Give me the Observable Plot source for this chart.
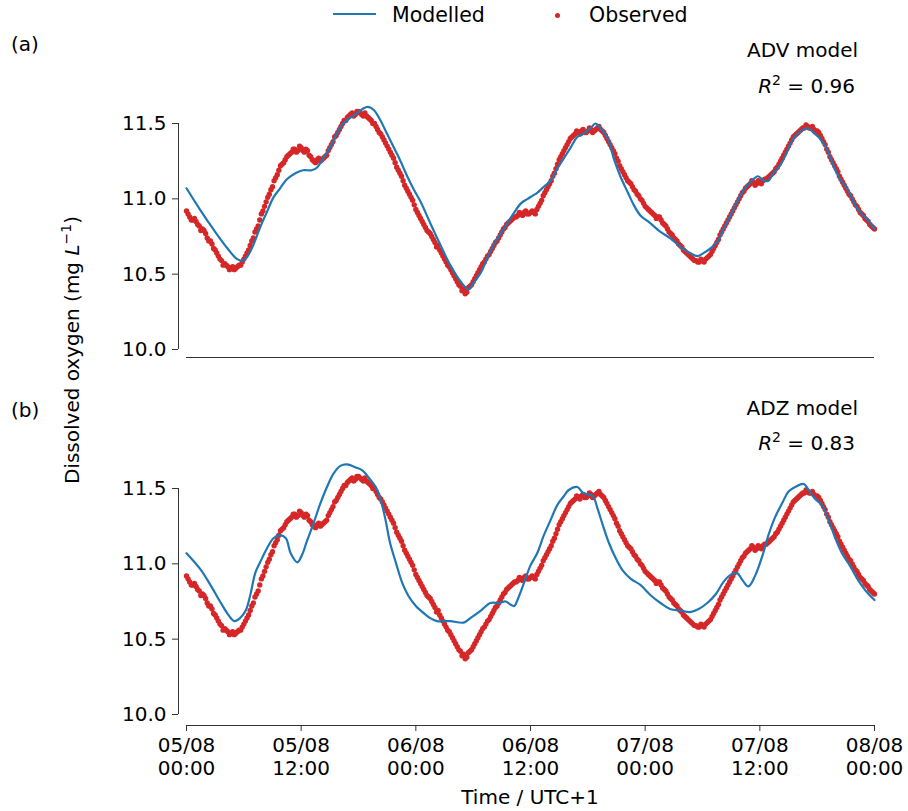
<!DOCTYPE html>
<html>
<head>
<meta charset="utf-8">
<script src="https://cdn.jsdelivr.net/npm/d3@7"></script>
<script src="https://cdn.jsdelivr.net/npm/@observablehq/plot@0.6"></script>
<style>
  html, body { margin: 0; padding: 0; background: #fff; }
  #root { position: relative; width: 908px; height: 811px; font-family: "DejaVu Sans", sans-serif; color: #000; overflow: hidden; }
  .abs { position: absolute; white-space: nowrap; font-size: 20px; line-height: 24px; }
  svg { position: absolute; left: 0; }
</style>
</head>
<body>
<div id="root"></div>
<script>
// ---- Data ----
const tickHours = [0, 12, 24, 36, 48, 60, 72];
const xTickLabels = ["05/08\n00:00", "05/08\n12:00", "06/08\n00:00", "06/08\n12:00", "07/08\n00:00", "07/08\n12:00", "08/08\n00:00"];
const yTicks = [10.0, 10.5, 11.0, 11.5];
const yTickLabels = ["10.0", "10.5", "11.0", "11.5"];

// Observed DO, every 20 minutes from 05/08 00:00 (hours since start = index / 3)
const observedValues = [
  10.92, 10.88, 10.86,  10.85, 10.82, 10.80,  10.77, 10.72, 10.70,  10.66, 10.62, 10.59,
  10.57, 10.55, 10.54,  10.53, 10.55, 10.56,  10.60, 10.64, 10.69,  10.74, 10.80, 10.86,
  10.92, 10.98, 11.03,  11.08, 11.14, 11.19,  11.23, 11.26, 11.29,  11.31, 11.33, 11.32,
  11.34, 11.31, 11.32,  11.28, 11.25, 11.26,  11.25, 11.27, 11.29,  11.34, 11.38, 11.42,
  11.46, 11.50, 11.52,  11.55, 11.57, 11.56,  11.58, 11.56, 11.57,  11.54, 11.52, 11.50,
  11.46, 11.43, 11.39,  11.35, 11.31, 11.27,  11.21, 11.17, 11.12,  11.07, 11.03, 10.99,
  10.93, 10.89, 10.85,  10.81, 10.78, 10.75,  10.71, 10.69, 10.64,  10.60, 10.56, 10.53,
  10.49, 10.45, 10.42,  10.40, 10.38, 10.42,  10.45, 10.49, 10.53,  10.57, 10.60, 10.63,
  10.67, 10.71, 10.74,  10.78, 10.81, 10.84,  10.86, 10.88, 10.89,  10.90, 10.91, 10.90,
  10.91, 10.91, 10.93,  10.97, 11.02, 11.06,  11.10, 11.15, 11.20,  11.26, 11.30, 11.34,
  11.38, 11.41, 11.43,  11.44, 11.45, 11.44,  11.45, 11.46, 11.45,  11.47, 11.46, 11.44,
  11.40, 11.36, 11.32,  11.27, 11.22, 11.18,  11.14, 11.11, 11.08,  11.05, 11.02, 10.99,
  10.95, 10.93, 10.91,  10.89, 10.88, 10.86,  10.83, 10.80, 10.77,  10.74, 10.72, 10.69,
  10.66, 10.64, 10.62,  10.60, 10.59, 10.58,  10.59, 10.60, 10.62,  10.65, 10.69, 10.73,
  10.78, 10.82, 10.86,  10.90, 10.94, 10.98,  11.02, 11.05, 11.08,  11.10, 11.11, 11.10,
  11.11, 11.12, 11.13,  11.15, 11.17, 11.20,  11.23, 11.27, 11.31,  11.35, 11.39, 11.42,
  11.44, 11.46, 11.47,  11.48, 11.47, 11.46,  11.45, 11.42, 11.38,  11.33, 11.28, 11.24,
  11.20, 11.15, 11.11,  11.07, 11.03, 11.00,  10.96, 10.93, 10.90,  10.87, 10.85, 10.82,
  10.80
];
// Observed DO, the readings in between (10, 30, 50 minutes past each hour; hours = index / 3 + 1/6)
const observedValuesMid = [
  10.90, 10.86, 10.87,  10.83, 10.79, 10.79,  10.74, 10.72, 10.67,  10.64, 10.60, 10.56,
  10.56, 10.53, 10.55,  10.54, 10.56, 10.58,  10.62, 10.66, 10.72,  10.78, 10.82, 10.90,
  10.95, 11.01, 11.06,  11.12, 11.16, 11.22,  11.24, 11.28, 11.30,  11.33, 11.31, 11.35,
  11.32, 11.33, 11.29,  11.26, 11.24, 11.27,  11.26, 11.28, 11.32,  11.36, 11.41, 11.44,
  11.48, 11.52, 11.54,  11.56, 11.55, 11.58,  11.57, 11.55, 11.55,  11.53, 11.50, 11.48,
  11.44, 11.41, 11.37,  11.33, 11.29, 11.24,  11.19, 11.15, 11.09,  11.05, 11.01, 10.96,
  10.91, 10.87, 10.83,  10.79, 10.77, 10.73,  10.68, 10.66, 10.62,  10.58, 10.55, 10.51,
  10.47, 10.43, 10.39,  10.37, 10.41, 10.43,  10.47, 10.51, 10.55,  10.58, 10.62, 10.65,
  10.69, 10.72, 10.76,  10.80, 10.83, 10.85,  10.87, 10.88, 10.91,  10.89, 10.92, 10.90,
  10.92, 10.90, 10.95,  10.99, 11.04, 11.08,  11.12, 11.17, 11.23,  11.28, 11.32, 11.36,
  11.40, 11.42, 11.45,  11.43, 11.46, 11.44,  11.47, 11.44, 11.46,  11.48, 11.45, 11.42,
  11.38, 11.34, 11.30,  11.25, 11.20, 11.16,  11.12, 11.10, 11.06,  11.03, 11.00, 10.97,
  10.94, 10.92, 10.90,  10.87, 10.88, 10.84,  10.82, 10.78, 10.76,  10.73, 10.70, 10.68,
  10.65, 10.63, 10.61,  10.59, 10.58, 10.60,  10.58, 10.61, 10.63,  10.67, 10.71, 10.76,
  10.80, 10.84, 10.88,  10.92, 10.96, 11.00,  11.04, 11.07, 11.09,  11.12, 11.09, 11.12,
  11.10, 11.13, 11.14,  11.16, 11.18, 11.21,  11.25, 11.29, 11.33,  11.37, 11.41, 11.43,
  11.45, 11.47, 11.49,  11.47, 11.48, 11.45,  11.44, 11.40, 11.36,  11.31, 11.26, 11.22,
  11.18, 11.13, 11.09,  11.05, 11.02, 10.98,  10.95, 10.91, 10.89,  10.86, 10.83, 10.81
];

// ADV model (hours since start, DO)
const advHours = [0, 1.5, 2.9, 4.3, 5.3, 5.9, 6.4, 6.9, 7.4, 7.9, 8.4, 9.1, 9.8, 10.5, 11.4, 12.2, 13.1, 13.7, 14.3, 15.1,
  15.8, 16.4, 17.2, 17.9, 18.5, 19.0, 19.6, 20.3, 21.0, 21.7, 22.4, 23.1, 23.8, 24.5, 25.5, 26.6, 27.6, 28.7, 29.5, 30.0,
  30.8, 31.5, 32.2, 32.9, 33.6, 34.2, 35.0, 35.7, 36.2, 36.7, 37.4, 38.1, 38.8, 39.5, 40.2, 40.9, 41.5, 42.3, 42.8, 43.3,
  44.1, 44.7, 45.4, 46.2, 46.8, 47.5, 48.5, 49.6, 50.6, 51.7, 52.7, 53.5, 54.1, 54.8, 55.6, 56.2, 57.0, 57.7, 58.3, 59.0,
  59.8, 60.4, 60.9, 61.4, 62.2, 62.9, 63.5, 64.3, 65.0, 65.6, 66.3, 67.1, 67.7, 68.4, 69.2, 69.8, 70.5, 71.3, 72.0];
const advValues = [11.07, 10.92, 10.79, 10.67, 10.60, 10.59, 10.62, 10.68, 10.76, 10.84, 10.91, 11.01, 11.07, 11.13, 11.17, 11.19, 11.19, 11.21, 11.27, 11.35,
  11.44, 11.50, 11.54, 11.57, 11.60, 11.61, 11.59, 11.52, 11.43, 11.34, 11.25, 11.15, 11.06, 10.98, 10.84, 10.69, 10.56, 10.45, 10.40, 10.44,
  10.51, 10.61, 10.70, 10.77, 10.84, 10.90, 10.97, 11.00, 11.02, 11.04, 11.08, 11.12, 11.20, 11.27, 11.34, 11.41, 11.43, 11.47, 11.50, 11.47,
  11.40, 11.27, 11.15, 11.04, 10.96, 10.89, 10.84, 10.78, 10.74, 10.68, 10.64, 10.62, 10.64, 10.67, 10.72, 10.80, 10.90, 10.99, 11.06, 11.11,
  11.15, 11.12, 11.12, 11.17, 11.23, 11.32, 11.40, 11.45, 11.47, 11.44, 11.40, 11.32, 11.22, 11.13, 11.06, 10.98, 10.91, 10.86, 10.80];

// ADZ model (hours since start, DO)
const adzHours = [0, 1.5, 2.5, 3.6, 4.4, 5.0, 5.6, 6.2, 6.7, 7.2, 7.7, 8.4, 9.1, 9.8, 10.4, 10.9, 11.6, 12.1, 12.6, 13.3,
  14.0, 14.7, 15.4, 16.1, 16.8, 17.7, 18.4, 19.1, 19.8, 20.3, 20.8, 21.3, 21.9, 22.6, 23.2, 24.0, 24.5, 25.5, 26.2, 27.6,
  29.0, 29.7, 30.8, 31.8, 32.7, 33.4, 33.9, 34.3, 34.7, 35.3, 36.0, 36.7, 37.4, 38.1, 38.8, 39.5, 40.0, 40.9, 41.5, 42.5,
  43.0, 43.5, 44.2, 44.9, 45.6, 46.5, 47.5, 48.6, 49.6, 50.6, 51.7, 52.7, 53.6, 54.5, 55.4, 56.2, 57.0, 57.6, 58.2, 58.8,
  59.5, 60.3, 60.9, 61.6, 62.4, 63.0, 63.7, 64.6, 65.1, 65.8, 66.5, 67.2, 67.9, 68.6, 69.5, 70.3, 71.1, 72.0];
const adzValues = [11.07, 10.96, 10.86, 10.74, 10.66, 10.62, 10.64, 10.69, 10.80, 10.94, 11.01, 11.10, 11.17, 11.19, 11.17, 11.07, 11.01, 11.06, 11.15, 11.27,
  11.40, 11.51, 11.60, 11.65, 11.66, 11.64, 11.62, 11.57, 11.51, 11.43, 11.30, 11.14, 11.01, 10.87, 10.79, 10.72, 10.69, 10.64, 10.62, 10.62,
  10.61, 10.64, 10.69, 10.74, 10.74, 10.75, 10.73, 10.72, 10.77, 10.87, 10.99, 11.07, 11.19, 11.29, 11.39, 11.45, 11.49, 11.51, 11.47, 11.45,
  11.37, 11.27, 11.14, 11.04, 10.96, 10.90, 10.86, 10.79, 10.74, 10.70, 10.69, 10.68, 10.70, 10.74, 10.80, 10.88, 10.93, 10.94, 10.89, 10.85,
  10.92, 11.06, 11.19, 11.31, 11.41, 11.48, 11.51, 11.53, 11.49, 11.43, 11.39, 11.29, 11.17, 11.07, 10.98, 10.89, 10.82, 10.76];

// ---- Build tables ----
const observed = observedValues.map((v, i) => ({h: i / 3, v}))
  .concat(observedValuesMid.map((v, i) => ({h: i / 3 + 1 / 6, v})));
const adv = advHours.map((h, i) => ({h, v: advValues[i]}));
const adz = adzHours.map((h, i) => ({h, v: adzValues[i]}));

const blue = "#1f77b4", red = "#d62728", axisColor = "#333";

function panel({model, height, marginTop, marginBottom, insetBottom, showX}) {
  return Plot.plot({
    width: 908,
    height,
    marginLeft: 178,
    marginRight: 34,
    marginTop,
    marginBottom,
    insetLeft: 8,
    insetBottom,
    x: showX ? {domain: [0, 72]} : {domain: [0, 72], axis: null},
    y: {domain: [10, 11.5], axis: null},
    style: {fontFamily: "DejaVu Sans", fontSize: "20px", color: "#000", background: "transparent", overflow: "visible"},
    marks: [
      Plot.ruleX([0], {y1: 10, y2: 11.5, dx: -8, stroke: axisColor, strokeWidth: 1}),
      Plot.ruleY([10], {x1: 0, x2: 72, dy: insetBottom, stroke: axisColor, strokeWidth: 1}),
      Plot.axisY({anchor: "left", ticks: yTicks, tickFormat: d => yTickLabels[yTicks.indexOf(d)], tickSize: 6, tickPadding: 6, label: null, stroke: axisColor}),
      showX ? Plot.axisX({anchor: "bottom", ticks: tickHours, tickFormat: d => xTickLabels[tickHours.indexOf(d)], tickSize: 6, tickPadding: 4, label: null, lineHeight: 1.15, stroke: axisColor}) : null,
      Plot.dot(observed, {x: "h", y: "v", r: 2.7, fill: red, stroke: null}),
      Plot.line(model, {x: "h", y: "v", stroke: blue, strokeWidth: 2.2, curve: "catmull-rom"})
    ]
  });
}

const root = document.getElementById("root");

const svgA = panel({model: adv, height: 280, marginTop: 33, marginBottom: 13, insetBottom: 8, showX: false});
svgA.style.top = "90px";
root.appendChild(svgA);

const svgB = panel({model: adz, height: 350, marginTop: 48, marginBottom: 65, insetBottom: 11, showX: true});
svgB.style.top = "440px";
root.appendChild(svgB);

// ---- Texts ----
function addText(html, style) {
  const d = document.createElement("div");
  d.className = "abs";
  d.innerHTML = html;
  Object.assign(d.style, style);
  root.appendChild(d);
  return d;
}

// Legend
const legLine = document.createElement("div");
legLine.style.cssText = `position:absolute;left:333px;top:13px;width:43px;height:0;border-top:2.2px solid ${blue};`;
root.appendChild(legLine);
addText("Modelled", {left: "392px", top: "3px", fontSize: "20.5px"});
const legDot = document.createElement("div");
legDot.style.cssText = `position:absolute;left:554.5px;top:12.5px;width:5px;height:5px;border-radius:50%;background:${red};`;
root.appendChild(legDot);
addText("Observed", {left: "589px", top: "3px", fontSize: "20.5px"});

// Panel labels
addText("(a)", {left: "11px", top: "32px"});
addText("(b)", {left: "11px", top: "398px"});

// Model annotations
const sup = "font-size:14px;vertical-align:8px;line-height:0";
addText("ADV model", {right: "50px", top: "38px"});
addText(`<i>R</i><sup style="${sup}">2</sup> = 0.96`, {right: "53px", top: "74px"});
addText("ADZ model", {right: "50px", top: "396px"});
addText(`<i>R</i><sup style="${sup}">2</sup> = 0.83`, {right: "53px", top: "431px"});

// Axis titles
addText(`Dissolved oxygen (mg <i>L</i><sup style="${sup}">\u22121</sup>)`,
  {left: "72px", top: "350px", transform: "translate(-50%, -50%) rotate(-90deg)"});
addText("Time / UTC+1", {left: "530px", top: "797px", transform: "translate(-50%, -50%)"});
</script>
</body>
</html>
